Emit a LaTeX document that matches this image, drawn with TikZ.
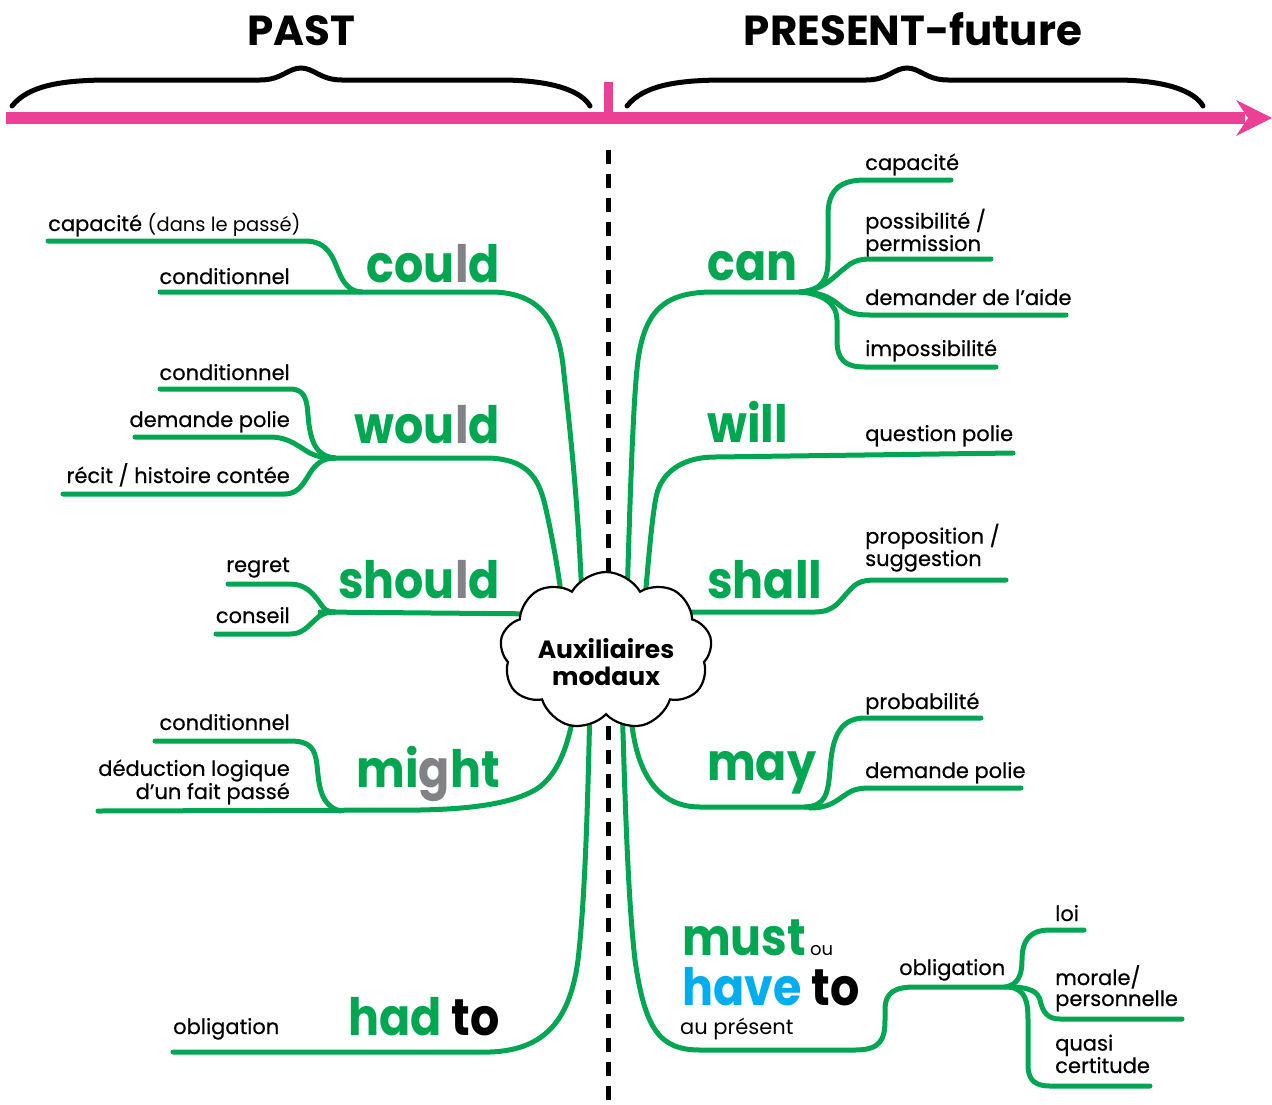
\documentclass[tikz,border=0pt]{standalone}
\usepackage{fontspec}
\usepackage{graphicx}
\setmainfont{Poppins}
\newfontfamily\medf{Poppins}[FakeBold=0.5]
\usetikzlibrary{shapes.symbols}
\definecolor{mgreen}{RGB}{0,166,81}
\definecolor{mpink}{RGB}{236,64,151}
\definecolor{mgray}{RGB}{128,130,133}
\definecolor{mblue}{RGB}{0,174,239}
\tikzset{
  br/.style={draw=mgreen, line width=5pt, line cap=round, line join=round},
  lbl/.style={font=\medf\fontsize{21}{21}\selectfont, inner sep=0pt},
  reg/.style={font=\fontsize{21}{21}\selectfont, inner sep=0pt},
  kw/.style={font=\bfseries\fontsize{46}{46}\selectfont, text=mgreen, inner sep=0pt},
  ttl/.style={font=\bfseries\fontsize{42}{42}\selectfont, inner sep=0pt},
  brace/.style={draw=black, line width=5pt, line cap=round},
}
\newcommand{\gl}{\textcolor{mgray}{l}}
\newcommand{\kwb}[1]{\scalebox{1}[1.12]{#1}}
\begin{document}
\begin{tikzpicture}[x=1pt,y=-1pt]
\useasboundingbox (0,0) rectangle (1272,1104);
% titles
\node[ttl, anchor=base] (past) at (301,45) {PAST};
\node[ttl, anchor=base] (pres) at (913,45) {PRESENT-future};
% braces
\draw[brace] (12,106) .. controls (28,86) and (60,80) .. (110,80) -- (260,80) .. controls (282,80) and (288,68) .. (301,68) .. controls (314,68) and (320,80) .. (342,80) -- (500,80) .. controls (555,80) and (582,92) .. (590,106);
\draw[brace] (627,106) .. controls (643,86) and (675,80) .. (725,80) -- (866,80) .. controls (888,80) and (894,68) .. (907,68) .. controls (920,68) and (926,80) .. (948,80) -- (1115,80) .. controls (1168,80) and (1195,92) .. (1203,106);
% timeline
\coordinate (tl0) at (6,118);
\coordinate (tl1) at (1245,118);
\draw[mpink, line width=12pt] (tl0) -- (tl1);
\fill[mpink] (1236,100) -- (1272,118) -- (1236,136) -- (1248,118) -- cycle;
\fill[mpink] (603.5,82) rectangle (612.5,118);
% dashed divider
\coordinate (d0) at (608,150);
\coordinate (d1) at (608,1104);
\draw[line width=5pt, dash pattern=on 14pt off 10pt] (d0) -- (d1);

% ===== LEFT =====
% could
\draw[br] (160,292) -- (490,292) .. controls (535,292) and (557,315) .. (563,365) .. controls (570,430) and (578,500) .. (582,600);
\draw[br] (48,241) -- (305,241) .. controls (328,241) and (333,258) .. (338,270) .. controls (343,283) and (350,292) .. (362,292);
\node[kw, anchor=base east] (could) at (500,282) {\kwb{cou\gl d}};
\node[lbl, anchor=base west] (capa) at (48,231) {capacité {\normalfont\fontsize{19.5}{21}\selectfont(dans le passé)}};
\node[lbl, anchor=base east] (cond1) at (290,284) {conditionnel};
% would
\draw[br] (330,458) -- (490,458) .. controls (525,460) and (538,475) .. (545,505) .. controls (553,540) and (558,570) .. (562,600);
\draw[br] (160,389) -- (290,389) .. controls (305,389) and (307,400) .. (308,415) .. controls (310,440) and (315,456) .. (335,458);
\draw[br] (135,437) -- (270,437) .. controls (290,437) and (300,448) .. (310,453) .. controls (318,457) and (325,458) .. (335,458);
\draw[br] (63,494) -- (285,494) .. controls (300,494) and (305,480) .. (312,470) .. controls (318,462) and (325,458) .. (335,458);
\node[kw, anchor=base east] (would) at (500,443) {\kwb{wou\gl d}};
\node[lbl, anchor=base east] (cond2) at (290,380) {conditionnel};
\node[lbl, anchor=base east] (dem1) at (290,427) {demande polie};
\node[lbl, anchor=base east] (recit) at (290,483) {récit / histoire contée};
% should
\draw[br] (320,612) -- (545,614);
\draw[br] (228,584) -- (290,584) .. controls (305,584) and (313,593) .. (320,603) .. controls (324,609) and (326,612) .. (335,612);
\draw[br] (216,634) -- (290,634) .. controls (303,634) and (308,626) .. (315,620) .. controls (320,615) and (325,612) .. (335,612);
\node[kw, anchor=base east] (should) at (500,598) {\kwb{shou\gl d}};
\node[lbl, anchor=base east] (regret) at (290,572) {regret};
\node[lbl, anchor=base east] (conseil) at (290,623) {conseil};
% might
\draw[br] (98,811) -- (420,810) .. controls (470,809) and (510,804) .. (535,790) .. controls (560,775) and (570,740) .. (576,700);
\draw[br] (155,741) -- (290,741) .. controls (310,741) and (315,748) .. (317,765) .. controls (319,785) and (320,805) .. (340,811);
\node[kw, anchor=base east] (might) at (500,787) {\kwb{mi\textcolor{mgray}{g}ht}};
\node[lbl, anchor=base east] (cond3) at (290,730) {conditionnel};
\node[lbl, anchor=base east, align=right] (deduc) at (290,799) {déduction logique\\d’un fait passé};
% had to
\draw[br] (173,1052) -- (490,1052) .. controls (545,1050) and (570,1020) .. (578,960) .. controls (585,900) and (588,800) .. (590,700);
\node[kw, anchor=base east] (hadto) at (500,1035) {\kwb{had \textcolor{black}{to}}};
\node[lbl, anchor=base west] (oblig1) at (173,1034) {obligation};

% ===== RIGHT =====
% can
\draw[br] (627,600) .. controls (630,500) and (633,400) .. (638,360) .. controls (645,310) and (665,293) .. (710,292) -- (800,292);
\draw[br] (800,292) .. controls (822,290) and (828,280) .. (828,260) -- (828,215) .. controls (828,190) and (840,180) .. (865,180) -- (951,180);
\draw[br] (800,292) .. controls (825,290) and (835,275) .. (845,268) .. controls (852,262) and (858,259) .. (870,259) -- (991,259);
\draw[br] (800,292) .. controls (825,292) and (833,300) .. (843,308) .. controls (850,313) and (856,315) .. (870,315) -- (1066,315);
\draw[br] (800,292) .. controls (825,294) and (837,305) .. (837,320) -- (837,340) .. controls (837,360) and (845,367) .. (865,367) -- (996,367);
\node[kw, anchor=base west] (can) at (707,280) {\kwb{can}};
\node[lbl, anchor=base west] (capa2) at (865,170) {capacité};
\node[lbl, anchor=base west, align=left] (poss) at (865,251) {possibilité /\\permission};
\node[lbl, anchor=base west] (aide) at (865,305) {demander de l’aide};
\node[lbl, anchor=base west] (imposs) at (865,356) {impossibilité};
% will
\draw[br] (645,600) .. controls (650,540) and (654,500) .. (658,490) .. controls (665,470) and (685,457) .. (715,457) -- (1013,453);
\node[kw, anchor=base west] (will) at (707,442) {\kwb{will}};
\node[lbl, anchor=base west] (quest) at (865,441) {question polie};
% shall
\draw[br] (670,612) -- (815,612) .. controls (835,612) and (840,600) .. (848,592) .. controls (855,584) and (860,580) .. (875,580) -- (1006,580);
\node[kw, anchor=base west] (shall) at (707,598) {\kwb{shall}};
\node[lbl, anchor=base west, align=left] (propo) at (865,566) {proposition /\\suggestion};
% may
\draw[br] (630,700) .. controls (632,760) and (650,807) .. (700,807) -- (815,807);
\draw[br] (805,807) .. controls (825,806) and (828,795) .. (830,770) .. controls (832,740) and (838,718) .. (865,718) -- (981,718);
\draw[br] (810,808) .. controls (830,808) and (837,800) .. (845,795) .. controls (852,790) and (858,788) .. (870,788) -- (1021,788);
\node[kw, anchor=base west] (may) at (707,780) {\kwb{may}};
\node[lbl, anchor=base west] (proba) at (865,709) {probabilité};
\node[lbl, anchor=base west] (dem2) at (865,778) {demande polie};
% must / have to
\draw[br] (622,700) .. controls (625,800) and (628,900) .. (635,960) .. controls (645,1030) and (660,1050) .. (700,1050) -- (855,1050) .. controls (880,1050) and (885,1040) .. (885,1020) -- (885,1010) .. controls (885,992) and (895,987) .. (915,987) -- (1010,987);
\draw[br] (1005,987) .. controls (1018,985) and (1022,975) .. (1022,960) .. controls (1022,940) and (1030,930) .. (1050,930) -- (1084,930);
\draw[br] (1010,987) .. controls (1030,987) and (1038,992) .. (1040,1000) .. controls (1043,1013) and (1048,1019) .. (1060,1019) -- (1182,1019);
\draw[br] (1010,987) .. controls (1025,990) and (1028,1000) .. (1028,1020) -- (1028,1065) .. controls (1028,1080) and (1035,1086) .. (1050,1086) -- (1150,1086);
\node[kw, anchor=base west, text depth=0pt] (must) at (682,955) {\kwb{must}};
\node[reg, anchor=base west, font=\fontsize{18}{18}\selectfont] (ou) at (810,955) {ou};
\node[kw, anchor=base west, text=mblue, text depth=0pt] (have) at (682,1005) {\kwb{have \textcolor{black}{to}}};
\node[reg, anchor=base west] (aupres) at (680,1034) {au présent};
\node[lbl, anchor=base west] (oblig2) at (899,975) {obligation};
\node[lbl, anchor=base west] (loi) at (1055,921) {loi};
\node[lbl, anchor=base west, align=left] (morale) at (1055,1006) {morale/\\personnelle};
\node[lbl, anchor=base west, align=left] (quasi) at (1055,1073) {quasi\\certitude};

% central cloud
\node[cloud, cloud puffs=9, cloud puff arc=120, aspect=1.4, draw, fill=white, line width=2.2pt, minimum width=212pt, minimum height=158pt] (hub) at (606,651) {};
\node[align=center, font=\bfseries\fontsize{25}{27}\selectfont] (hubtxt) at (606,662) {Auxiliaires\\modaux};
\end{tikzpicture}
\end{document}
